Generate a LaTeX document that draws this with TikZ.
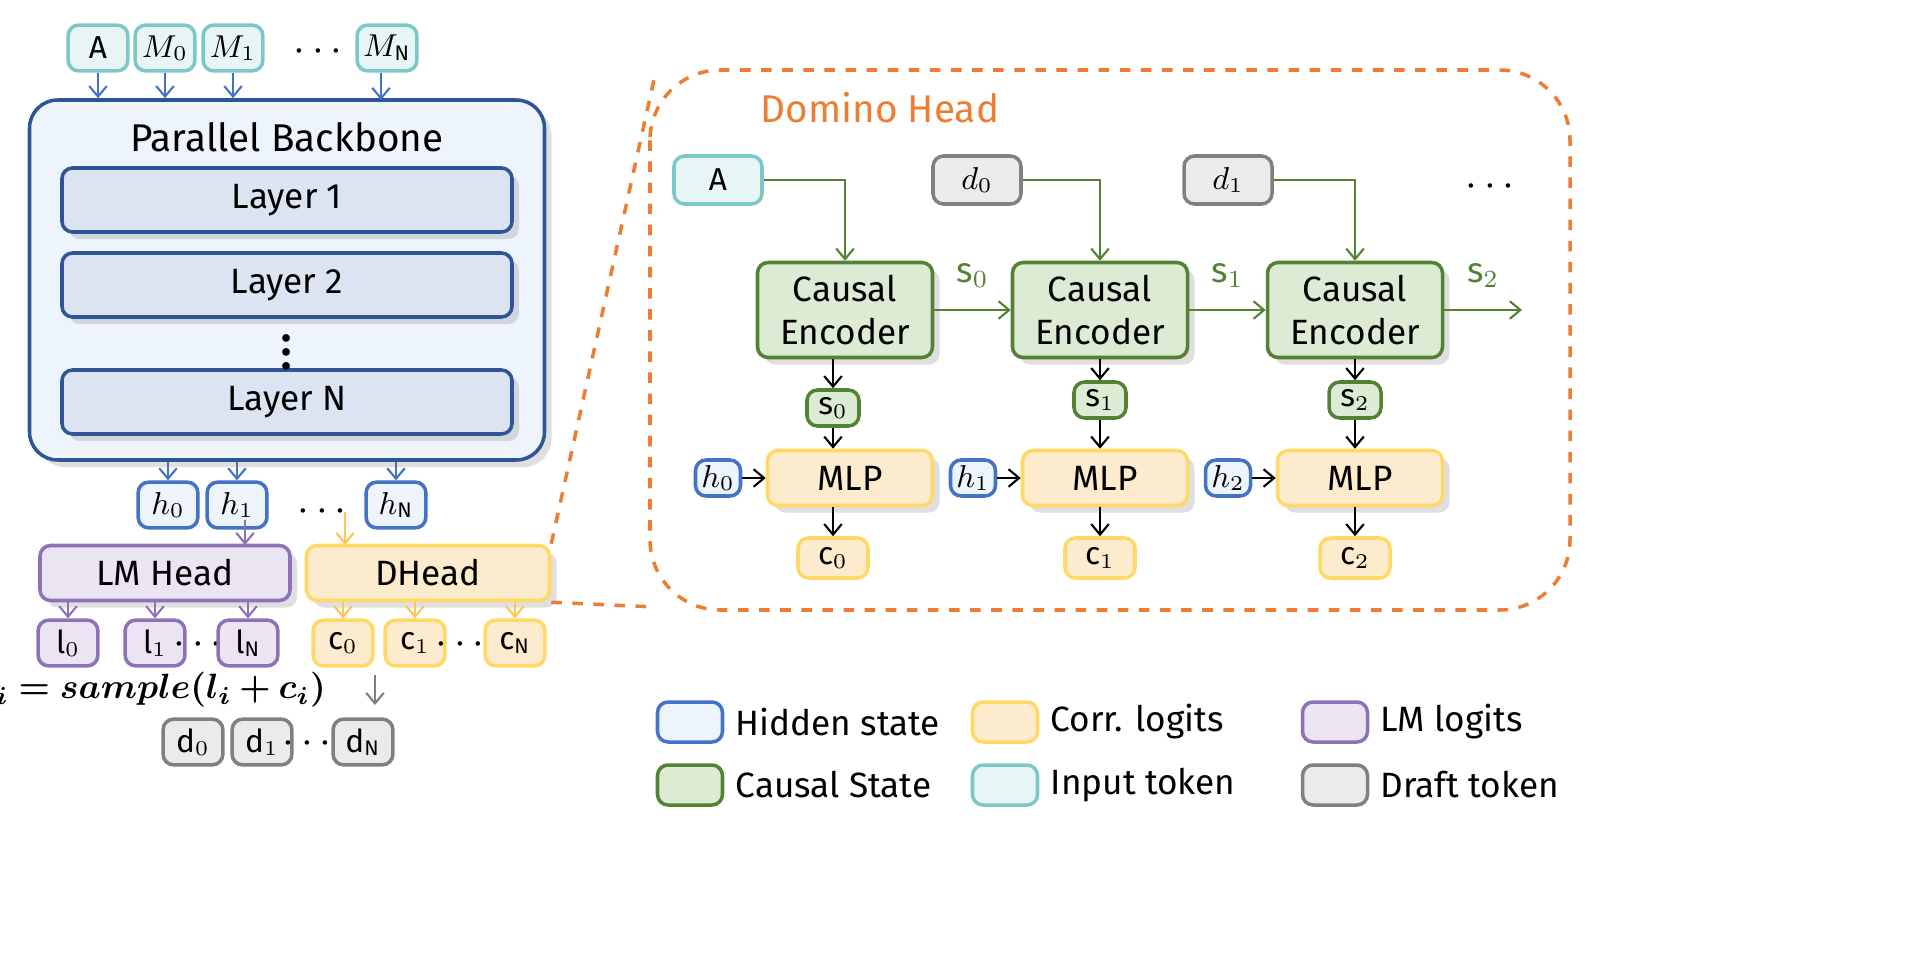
\documentclass[tikz,border=0pt]{standalone}
\usepackage{bm}
\usepackage{fontspec}
\setmainfont{Fira Sans}
\usetikzlibrary{shadows,arrows.meta}
\definecolor{hblue}{HTML}{4472C4}
\definecolor{hbluef}{HTML}{EEF4FB}
\definecolor{lblue}{HTML}{2F5597}
\definecolor{lbluef}{HTML}{DCE3F1}
\definecolor{lpurp}{HTML}{8E72B8}
\definecolor{lpurpf}{HTML}{EAE4F3}
\definecolor{cyel}{HTML}{FFD966}
\definecolor{cyelf}{HTML}{FDEBCE}
\definecolor{cgrn}{HTML}{548235}
\definecolor{cgrnf}{HTML}{DDEBD5}
\definecolor{iteal}{HTML}{7CC8C8}
\definecolor{itealf}{HTML}{E8F5F5}
\definecolor{dgray}{HTML}{808080}
\definecolor{dgrayf}{HTML}{EBEBEB}
\definecolor{dorange}{HTML}{ED7D31}
\tikzset{every node/.style={inner sep=0pt, font=\fontsize{10}{12}\selectfont},
  box/.style={draw, rounded corners=3pt, line width=1pt},
  tok/.style={box, minimum width=17pt, minimum height=13pt, font=\fontsize{9}{10}\selectfont},
  inp/.style={tok, draw=iteal, fill=itealf},
  hid/.style={tok, draw=hblue, fill=hbluef},
  lml/.style={tok, draw=lpurp, fill=lpurpf},
  cor/.style={tok, draw=cyel, fill=cyelf},
  dft/.style={tok, draw=dgray, fill=dgrayf},
  cst/.style={tok, draw=cgrn, fill=cgrnf},
  shad/.style={drop shadow={shadow xshift=2pt, shadow yshift=-2pt, opacity=0.25}},
  arr/.style={-{Straight Barb[length=3pt,width=5pt]}, line width=0.6pt},
  dots/.style={font=\fontsize{12}{12}\selectfont\bfseries}}
\begin{document}
\begin{tikzpicture}[x=0.01cm, y=-0.01cm]
  \useasboundingbox (0,0) rectangle (1914,957);
  % backbone
  \node[box, draw=lblue, fill=hbluef, rounded corners=8pt, minimum width=515*0.01cm, minimum height=360*0.01cm, shad] (bb) at (287,280) {};
  \node[font=\fontsize{11}{12}\selectfont] (bbt) at (287,137) {Parallel Backbone};
  \foreach \n/\y/\t in {l1/200/Layer 1, l2/285/Layer 2, ln/402/Layer N}
    \node[box, draw=lblue, fill=lbluef, minimum width=450*0.01cm, minimum height=64*0.01cm, shad] (\n) at (287,\y) {\t};
  \node[dots] (ld) at (287,342) {$\vdots$};
  % input tokens
  \node[inp] (a) at (98,48) {A};
  \node[inp] (m0) at (165,48) {$M_0$};
  \node[inp] (m1) at (233,48) {$M_1$};
  \node[dots] (md) at (318,52) {$\cdots$};
  \node[inp] (mn) at (387,48) {$M_{\mathrm{N}}$};
  \foreach \t in {a,m0,m1} \draw[arr, hblue] (\t.south) -- (\t.south |- bb.north);
  \draw[arr, hblue] (mn.south -| 381,0) -- (381,100);
  % hidden states
  \node[hid] (h0) at (168,505) {$h_0$};
  \node[hid] (h1) at (237,505) {$h_1$};
  \node[dots] (hd) at (322,512) {$\cdots$};
  \node[hid] (hn) at (396,505) {$h_{\mathrm{N}}$};
  \foreach \t in {h0,h1,hn} \draw[arr, hblue] (\t.north |- bb.south) -- (\t.north);
  % heads
  \node[box, draw=lpurp, fill=lpurpf, minimum width=250*0.01cm, minimum height=55*0.01cm, shad] (lm) at (165,573) {LM Head};
  \node[box, draw=cyel, fill=cyelf, minimum width=243*0.01cm, minimum height=55*0.01cm, shad] (dh) at (428,573) {DHead};
  \draw[arr, lpurp] (245,520) -- (245,545);
  \draw[arr, cyel!80!orange] (345,512) -- (345,545);
  \node[lml] (l0) at (68,643) {$\mathrm{l}_0$};
  \node[lml] (l1) at (155,643) {$\mathrm{l}_1$};
  \node[dots] (ldd) at (198,645) {$\cdots$};
  \node[lml] (lnn) at (248,643) {$\mathrm{l}_{\mathrm{N}}$};
  \foreach \t in {l0,l1,lnn} \draw[arr, lpurp] (\t.north |- lm.south) -- (\t.north);
  \node[cor] (c0) at (343,643) {$\mathrm{c}_0$};
  \node[cor] (c1) at (415,643) {$\mathrm{c}_1$};
  \node[dots] (cd) at (460,645) {$\cdots$};
  \node[cor] (cn) at (515,643) {$\mathrm{c}_{\mathrm{N}}$};
  \foreach \t in {c0,c1,cn} \draw[arr, cyel!80!orange] (\t.north |- dh.south) -- (\t.north);
  \node (frm) at (150,690) {$\bm{d_i = sample(l_i + c_i)}$};
  \draw[arr, dgray] (375,675) -- (375,705);
  \node[dft] (d0) at (193,742) {$\mathrm{d}_0$};
  \node[dft] (d1) at (262,742) {$\mathrm{d}_1$};
  \node[dots] (dd) at (307,744) {$\cdots$};
  \node[dft] (dn) at (363,742) {$\mathrm{d}_{\mathrm{N}}$};
  % domino head
  \draw[dorange, dashed, line width=1pt, rounded corners=20pt] (650,70) rectangle (1570,610);
  \draw[dorange, dashed, line width=1pt] (dh.north east) -- (655,75);
  \draw[dorange, dashed, line width=1pt] (dh.south east) -- (655,607);
  \node[text=dorange, font=\fontsize{11}{12}\selectfont] (dht) at (880,108) {Domino Head};
  \node[inp, minimum width=88*0.01cm, minimum height=48*0.01cm, anchor=center] (ra) at (718,180) {A};
  \node[dft, minimum width=88*0.01cm, minimum height=48*0.01cm] (rd0) at (977,180) {$d_0$};
  \node[dft, minimum width=88*0.01cm, minimum height=48*0.01cm] (rd1) at (1228,180) {$d_1$};
  \node[dots] (rdd) at (1490,187) {$\cdots$};
  \foreach \i/\x/\sx/\sy in {0/845/833/408,1/1100/1100/400,2/1355/1355/400} {
    \node[box, draw=cgrn, fill=cgrnf, minimum width=175*0.01cm, minimum height=95*0.01cm, align=center, shad] (enc\i) at (\x,310) {Causal\\Encoder};
    \node[cst, minimum width=52*0.01cm, minimum height=36*0.01cm] (s\i) at (\sx,\sy) {$\mathrm{s}_\i$};
    \node[box, draw=cyel, fill=cyelf, minimum width=165*0.01cm, minimum height=55*0.01cm, shad] (mlp\i) at (\x+5,478) {MLP};
    \node[hid, minimum width=45*0.01cm, minimum height=36*0.01cm] (rh\i) at (\x-127,478) {$h_\i$};
    \node[cor, minimum width=70*0.01cm, minimum height=40*0.01cm] (rc\i) at (\sx,558) {$\mathrm{c}_\i$};
    \draw[arr] (s\i.north |- enc\i.south) -- (s\i.north);
    \draw[arr] (s\i.south) -- (s\i.south |- mlp\i.north);
    \draw[arr] (s\i.south |- mlp\i.south) -- (rc\i.north);
    \draw[arr] (rh\i.east) -- (mlp\i.west);
  }
  \draw[arr, cgrn] (ra.east) -| (enc0.north);
  \draw[arr, cgrn] (rd0.east) -| (enc1.north);
  \draw[arr, cgrn] (rd1.east) -| (enc2.north);
  \draw[arr, cgrn] (enc0.east) -- node[above=6pt, text=cgrn] (lab0) {$\mathrm{s}_0$} (enc1.west);
  \draw[arr, cgrn] (enc1.east) -- node[above=6pt, text=cgrn] (lab1) {$\mathrm{s}_1$} (enc2.west);
  \coordinate (out) at (1522,310);
  \draw[arr, cgrn] (enc2.east) -- node[above=6pt, text=cgrn] (lab2) {$\mathrm{s}_2$} (out);
  % legend
  \foreach \st/\x/\y/\t in {hid/690/722/Hidden state, cor/1005/722/Corr. logits, lml/1335/722/LM logits,
      cst/690/785/Causal State, inp/1005/785/Input token, dft/1335/785/Draft token} {
    \node[\st, minimum width=65*0.01cm, minimum height=40*0.01cm] (k\x\y) at (\x,\y) {};
    \node[anchor=west] (t\x\y) at (\x+45,\y) {\t};
  }
\end{tikzpicture}
\end{document}
